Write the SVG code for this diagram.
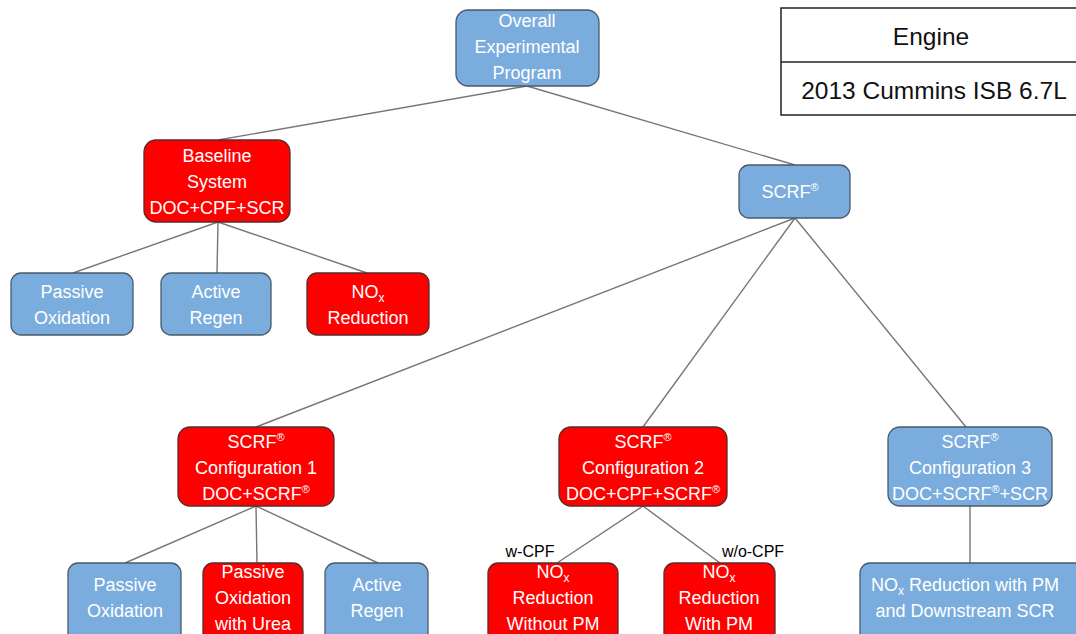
<svg xmlns="http://www.w3.org/2000/svg" width="1076" height="634" viewBox="0 0 1076 634">
<style>
.b{fill:#7aaddd;stroke:#4a5a6a;stroke-width:1.3}
.r{fill:#ff0000;stroke:#5a2a2a;stroke-width:1.3}
.t{font-family:"Liberation Sans",sans-serif;font-size:18px;fill:#ffffff;text-anchor:middle}
.l{font-family:"Liberation Sans",sans-serif;font-size:16px;fill:#000000;text-anchor:middle}
.e{font-family:"Liberation Sans",sans-serif;font-size:24.5px;fill:#111111;text-anchor:middle}
.c{stroke:#777777;stroke-width:1.4;fill:none}
</style>
<rect width="1076" height="634" fill="#ffffff"/>
<g id="connectors">
<line class="c" x1="527" y1="86" x2="218" y2="140"/>
<line class="c" x1="527" y1="86" x2="795" y2="165"/>
<line class="c" x1="218" y1="222" x2="73" y2="273"/>
<line class="c" x1="218" y1="222" x2="217" y2="273"/>
<line class="c" x1="218" y1="222" x2="367" y2="273"/>
<line class="c" x1="795" y1="218" x2="256" y2="427"/>
<line class="c" x1="795" y1="218" x2="643" y2="427"/>
<line class="c" x1="795" y1="218" x2="966" y2="427"/>
<line class="c" x1="256" y1="506" x2="125" y2="563"/>
<line class="c" x1="256" y1="506" x2="257" y2="563"/>
<line class="c" x1="256" y1="506" x2="378" y2="563"/>
<line class="c" x1="643" y1="506" x2="557" y2="563"/>
<line class="c" x1="643" y1="506" x2="720" y2="563"/>
<line class="c" x1="970" y1="506" x2="970" y2="563"/>
<text class="l" x="530" y="557">w-CPF</text>
<text class="l" x="753" y="557">w/o-CPF</text>
</g>
<g id="engine">
<rect x="781" y="8" width="300" height="107" fill="#ffffff" stroke="#222222" stroke-width="1.5"/>
<line x1="781" y1="62" x2="1076" y2="62" stroke="#222222" stroke-width="1.5"/>
<text class="e" x="931" y="45">Engine</text>
<text class="e" x="934" y="99">2013 Cummins ISB 6.7L</text>
</g>
<g id="overall">
<rect class="b" x="456" y="10" width="143" height="76" rx="12"/>
<text class="t" x="527" y="27">Overall</text>
<text class="t" x="527" y="53">Experimental</text>
<text class="t" x="527" y="79">Program</text>
</g>
<g id="baseline">
<rect class="r" x="144" y="140" width="146" height="82" rx="12"/>
<text class="t" x="217" y="162">Baseline</text>
<text class="t" x="217" y="188">System</text>
<text class="t" x="217" y="214">DOC+CPF+SCR</text>
</g>
<g id="scrf">
<rect class="b" x="739" y="165" width="111" height="53" rx="10"/>
<text class="t" x="790" y="198">SCRF<tspan font-size="11" dy="-7">®</tspan></text>
</g>
<g id="passive1">
<rect class="b" x="11" y="273" width="122" height="62" rx="10"/>
<text class="t" x="72" y="298">Passive</text>
<text class="t" x="72" y="324">Oxidation</text>
</g>
<g id="active1">
<rect class="b" x="161" y="273" width="110" height="62" rx="10"/>
<text class="t" x="216" y="298">Active</text>
<text class="t" x="216" y="324">Regen</text>
</g>
<g id="nox1">
<rect class="r" x="307" y="273" width="122" height="62" rx="10"/>
<text class="t" x="368" y="298">NO<tspan font-size="12" dy="4">x</tspan></text>
<text class="t" x="368" y="324">Reduction</text>
</g>
<g id="config1">
<rect class="r" x="178" y="427" width="156" height="79" rx="12"/>
<text class="t" x="256" y="448">SCRF<tspan font-size="11" dy="-7">®</tspan></text>
<text class="t" x="256" y="474">Configuration 1</text>
<text class="t" x="256" y="500">DOC+SCRF<tspan font-size="11" dy="-7">®</tspan></text>
</g>
<g id="config2">
<rect class="r" x="559" y="427" width="168" height="79" rx="12"/>
<text class="t" x="643" y="448">SCRF<tspan font-size="11" dy="-7">®</tspan></text>
<text class="t" x="643" y="474">Configuration 2</text>
<text class="t" x="643" y="500">DOC+CPF+SCRF<tspan font-size="11" dy="-7">®</tspan></text>
</g>
<g id="config3">
<rect class="b" x="888" y="427" width="164" height="79" rx="12"/>
<text class="t" x="970" y="448">SCRF<tspan font-size="11" dy="-7">®</tspan></text>
<text class="t" x="970" y="474">Configuration 3</text>
<text class="t" x="970" y="500">DOC+SCRF<tspan font-size="11" dy="-7">®</tspan><tspan dy="7">+SCR</tspan></text>
</g>
<g id="passive2">
<rect class="b" x="68" y="563" width="113" height="80" rx="10"/>
<text class="t" x="125" y="591">Passive</text>
<text class="t" x="125" y="617">Oxidation</text>
</g>
<g id="passiveurea">
<rect class="r" x="203" y="563" width="100" height="80" rx="10"/>
<text class="t" x="253" y="578">Passive</text>
<text class="t" x="253" y="604">Oxidation</text>
<text class="t" x="253" y="630">with Urea</text>
</g>
<g id="active2">
<rect class="b" x="325" y="563" width="103" height="80" rx="10"/>
<text class="t" x="377" y="591">Active</text>
<text class="t" x="377" y="617">Regen</text>
</g>
<g id="noxwithout">
<rect class="r" x="488" y="563" width="130" height="80" rx="10"/>
<text class="t" x="553" y="578">NO<tspan font-size="12" dy="4">x</tspan></text>
<text class="t" x="553" y="604">Reduction</text>
<text class="t" x="553" y="630">Without PM</text>
</g>
<g id="noxwith">
<rect class="r" x="664" y="563" width="111" height="80" rx="10"/>
<text class="t" x="719" y="578">NO<tspan font-size="12" dy="4">x</tspan></text>
<text class="t" x="719" y="604">Reduction</text>
<text class="t" x="719" y="630">With PM</text>
</g>
<g id="noxdownstream">
<rect class="b" x="860" y="563" width="226" height="80" rx="10"/>
<text class="t" x="965" y="591">NO<tspan font-size="12" dy="4">x</tspan><tspan dy="-4"> Reduction with PM</tspan></text>
<text class="t" x="965" y="617">and Downstream SCR</text>
</g>
</svg>
